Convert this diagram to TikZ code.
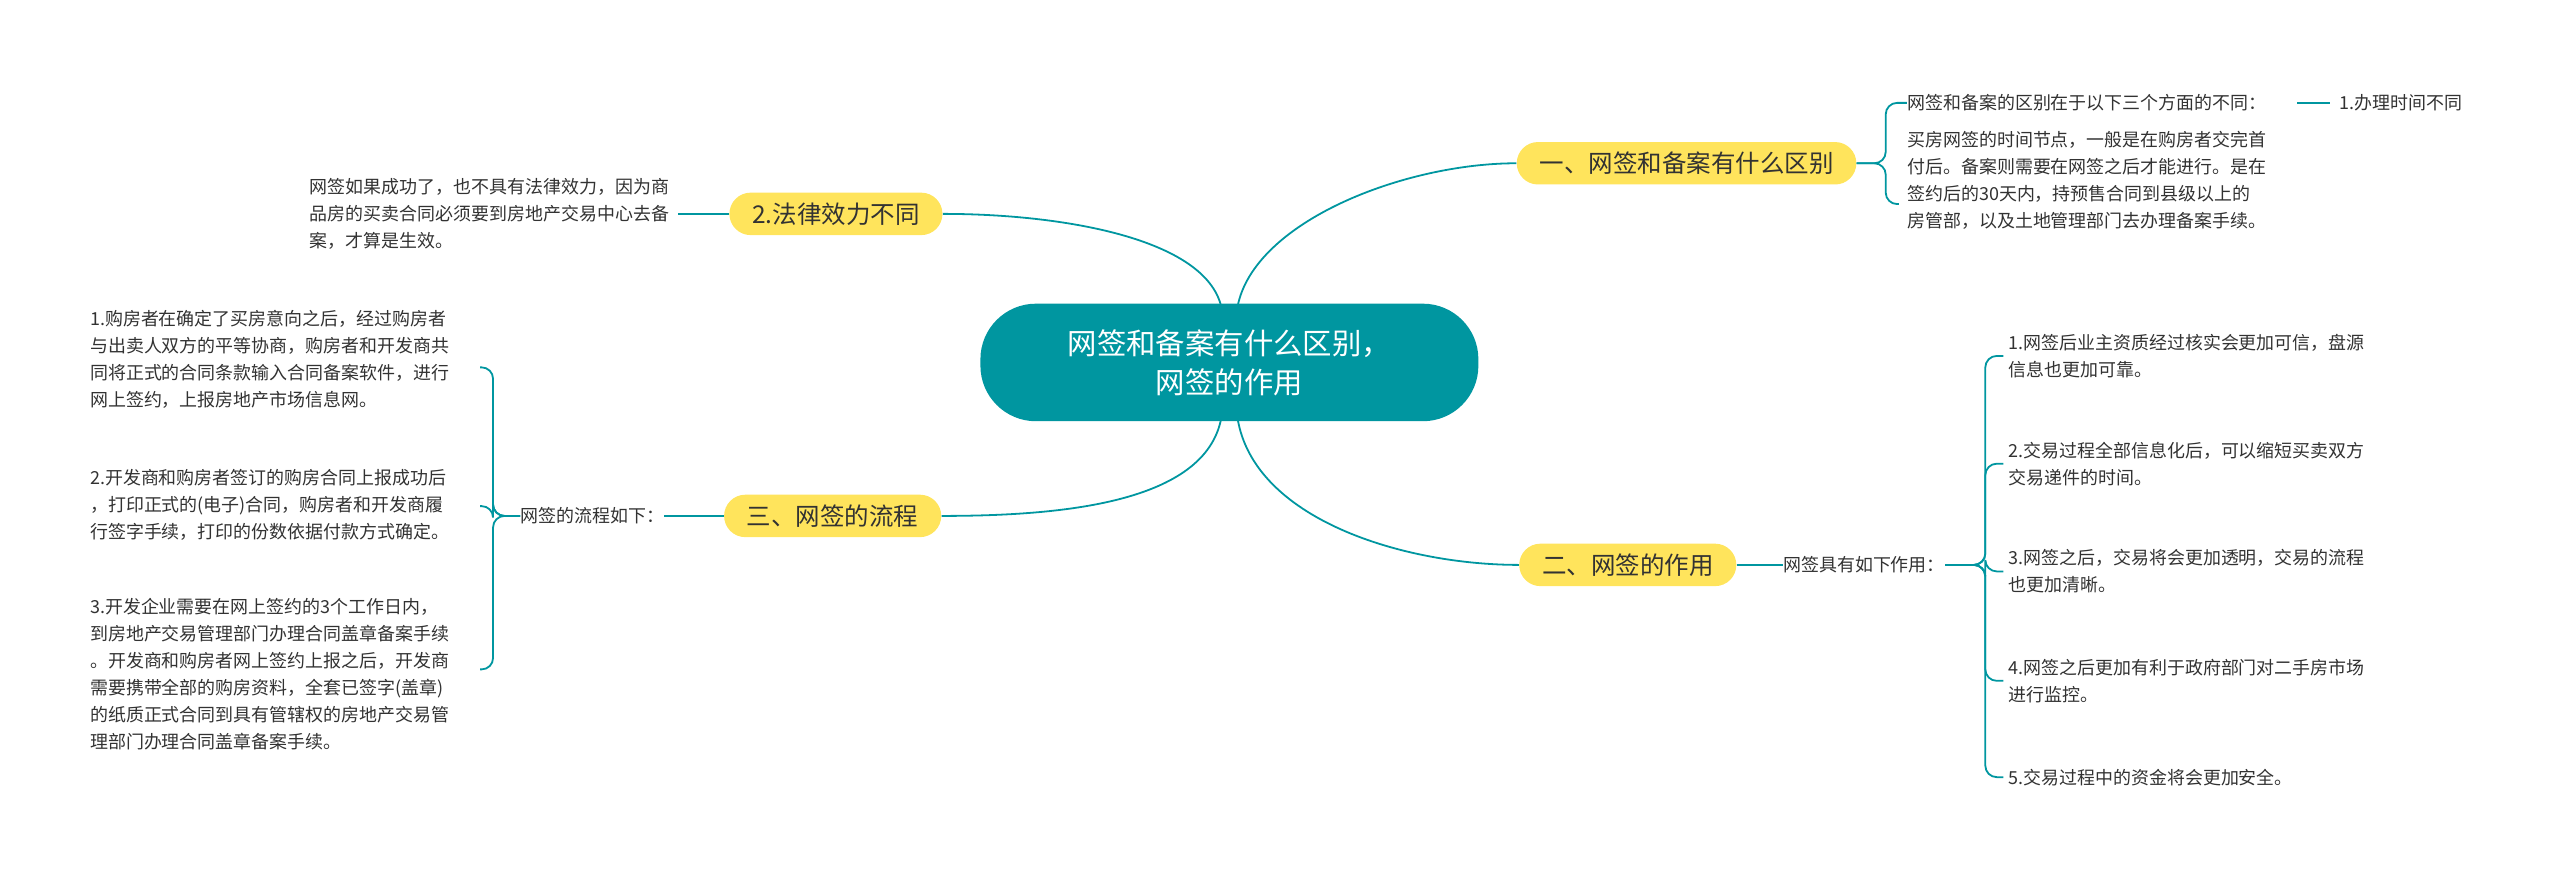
\documentclass[tikz,border=0pt]{standalone}
\usepackage{fontspec}
\setmainfont{Noto Sans CJK SC}
\usetikzlibrary{calc}
\definecolor{teal1}{RGB}{0,150,160}
\definecolor{yel}{RGB}{255,228,92}
\definecolor{txt}{RGB}{50,50,50}
\tikzset{
  ln/.style={draw=teal1, line width=1.1pt},
  br/.style={ln, rounded corners=7pt},
  branch/.style={fill=yel, rounded corners=13pt, minimum height=26pt, inner xsep=14pt, font=\fontsize{15}{18}\selectfont, text=txt},
  leaf/.style={inner sep=0pt, align=left, font=\fontsize{11}{16.5}\selectfont, text=txt},
}
\begin{document}
\begin{tikzpicture}[x=1pt,y=-1pt]
\useasboundingbox (0,0) rectangle (1568,538);
\node[fill=teal1, rounded corners=34pt, minimum width=305pt, minimum height=72pt, text=white, align=center, font=\fontsize{18}{24}\selectfont] (c) at (753,222) {网签和备案有什么区别，\\网签的作用};
\node[branch] (b1) at (1033,100) {一、网签和备案有什么区别};
\node[branch] (b2) at (997,346) {二、网签的作用};
\node[branch] (b3) at (512,131) {2.法律效力不同};
\node[branch] (b4) at (510,316) {三、网签的流程};
\draw[ln] ($(c.north)+(5,2)$) .. controls ($(c.north)+(15,-50)$) and (860,100) .. (b1.west);
\draw[ln] ($(c.south)+(5,-2)$) .. controls ($(c.south)+(15,60)$) and (860,346) .. (b2.west);
\draw[ln] ($(c.north)+(-5,2)$) .. controls ($(c.north)+(-15,-40)$) and (650,131) .. (b3.east);
\draw[ln] ($(c.south)+(-5,-2)$) .. controls ($(c.south)+(-15,50)$) and (650,316) .. (b4.east);
% branch 1
\node[leaf, anchor=west] (r1) at (1168,63) {网签和备案的区别在于以下三个方面的不同：};
\node[leaf, anchor=west] (r1a) at (1433,63) {1.办理时间不同};
\node[leaf, anchor=north west] (r2) at (1168,80) {买房网签的时间节点，一般是在购房者交完首\\付后。备案则需要在网签之后才能进行。是在\\签约后的30天内，持预售合同到县级以上的\\房管部，以及土地管理部门去办理备案手续。};
\draw[ln] ($(r1a.west)+(-26,0)$) -- ($(r1a.west)+(-6,0)$);
\draw[br] (b1.east) -| (1155,63) -- (r1.west);
\draw[br] (b1.east) -| (1155,125) -- (1163,125);
% branch 2
\node[leaf, anchor=west] (s) at (1092,346) {网签具有如下作用：};
\draw[ln] (b2.east) -- (s.west);
\node[leaf, anchor=west] (i1) at (1230,218) {1.网签后业主资质经过核实会更加可信，盘源\\信息也更加可靠。};
\node[leaf, anchor=west] (i2) at (1230,284) {2.交易过程全部信息化后，可以缩短买卖双方\\交易递件的时间。};
\node[leaf, anchor=west] (i3) at (1230,350) {3.网签之后，交易将会更加透明，交易的流程\\也更加清晰。};
\node[leaf, anchor=west] (i4) at (1230,417) {4.网签之后更加有利于政府部门对二手房市场\\进行监控。};
\node[leaf, anchor=west] (i5) at (1230,476) {5.交易过程中的资金将会更加安全。};
\foreach \i in {i1,i2,i3,i4,i5}{
  \draw[br] (s.east) -| ($(\i.west)+(-14,0)$) -- ($(\i.west)+(-3,0)$);
}
% left law
\node[leaf, anchor=east] (l1) at (410,131) {网签如果成功了，也不具有法律效力，因为商\\品房的买卖合同必须要到房地产交易中心去备\\案，才算是生效。};
\draw[ln] (b3.west) -- ($(l1.east)+(5,0)$);
% branch 3
\node[leaf, anchor=east] (t) at (407,316) {网签的流程如下：};
\draw[ln] (b4.west) -- (t.east);
\node[leaf, anchor=west] (p1) at (55,220) {1.购房者在确定了买房意向之后，经过购房者\\与出卖人双方的平等协商，购房者和开发商共\\同将正式的合同条款输入合同备案软件，进行\\网上签约，上报房地产市场信息网。};
\node[leaf, anchor=west] (p2) at (55,309) {2.开发商和购房者签订的购房合同上报成功后\\，打印正式的(电子)合同，购房者和开发商履\\行签字手续，打印的份数依据付款方式确定。};
\node[leaf, anchor=west] (p3) at (55,413) {3.开发企业需要在网上签约的3个工作日内，\\到房地产交易管理部门办理合同盖章备案手续\\。开发商和购房者网上签约上报之后，开发商\\需要携带全部的购房资料，全套已签字(盖章)\\的纸质正式合同到具有管辖权的房地产交易管\\理部门办理合同盖章备案手续。};
\foreach \p/\y in {p1/225,p2/310,p3/410}{
  \draw[br] (t.west) -| (302,\y) -- (294,\y);
}
\end{tikzpicture}
\end{document}
